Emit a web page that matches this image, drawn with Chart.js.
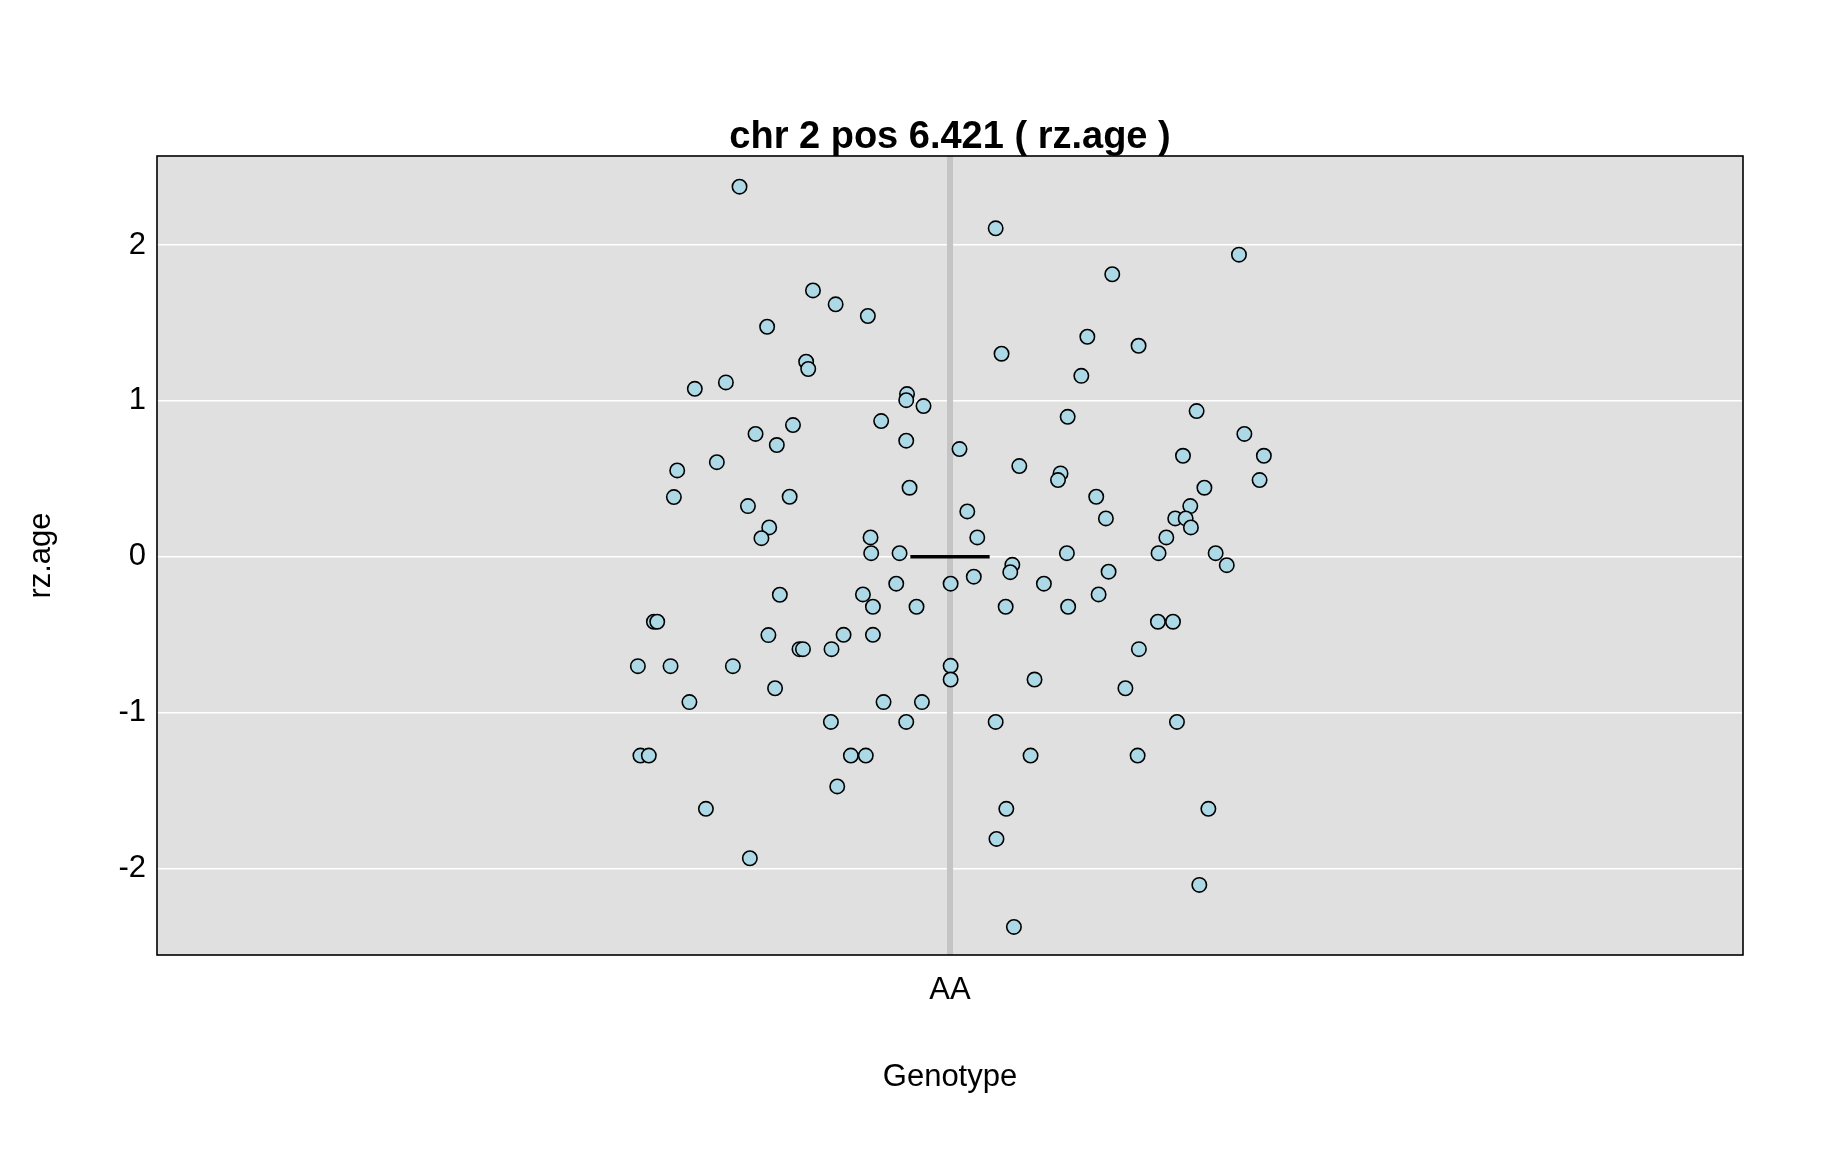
<!DOCTYPE html>
<html>
<head>
<meta charset="utf-8">
<script src="https://cdn.jsdelivr.net/npm/chart.js@4/dist/chart.umd.min.js"></script>
<style>
  html, body { margin: 0; padding: 0; background: #ffffff; }
  #wrap { width: 1824px; height: 1152px; position: relative; }
</style>
</head>
<body>
<div id="wrap"><canvas id="c" width="1824" height="1152"></canvas></div>
<script>
// ---- data ----
const genotypes = ['AA'];
const titleText = 'chr 2 pos 6.421 ( rz.age )';
const yLabel = 'rz.age';
const xLabel = 'Genotype';
const yTicks = [-2, -1, 0, 1, 2];
const meanValue = 0.0;
const meanHalfWidth = 0.025;

// horizontal jitter of each point (category units around AA)
const jitter = [
  -0.1327, 0.0288, 0.1822, 0.1023, -0.0864, -0.0721, -0.0518, -0.1153, 0.0866, 0.1189,
  0.0325, -0.0907, -0.0894, 0.0828, -0.1413, -0.1609, -0.0271, -0.0276, -0.0167, 0.1555,
  0.0742, -0.0434, -0.0990, -0.1226, 0.1856, -0.0276, -0.1092, 0.0060, 0.1469, 0.1979,
  -0.1470, 0.0437, -0.1720, 0.0697, 0.0681, 0.1952, -0.0255, 0.1604, -0.1011, -0.1741,
  0.0922, -0.1274, 0.1515, 0.0109, 0.0983, 0.1420, 0.1486, -0.1140, 0.1519, -0.1189,
  -0.0501, 0.0172, 0.1364, -0.0497, -0.0318, 0.0737, 0.1315, 0.1675, 0.0393, 0.1745,
  0.0380, 0.1000, 0.0150, -0.0339, 0.0004, 0.0592, -0.1073, -0.0549, 0.0937, -0.0486,
  -0.0211, 0.0351, 0.0745, -0.1867, -0.1846, 0.1311, 0.1406, -0.1145, -0.0671, -0.0486,
  -0.0949, -0.0927, -0.0747, 0.1191, -0.1968, -0.1762, -0.1369, 0.0004, 0.0004, 0.0533,
  -0.1103, 0.1106, -0.1643, -0.0419, -0.0177, -0.0751, -0.0276, 0.0288, 0.1431, -0.1952,
  -0.1899, -0.0625, -0.0531, 0.0508, 0.1183, -0.0711, -0.1539, 0.0355, 0.1629, 0.0293,
  -0.1262, 0.1572, 0.0403
];

// rz.age values
const rzAge = [
  2.375, 2.108, 1.939, 1.813, 1.709, 1.620, 1.545, 1.476, 1.412, 1.354,
  1.303, 1.252, 1.205, 1.161, 1.119, 1.078, 1.044, 1.005, 0.967, 0.935,
  0.898, 0.871, 0.845, 0.788, 0.788, 0.745, 0.717, 0.691, 0.648, 0.648,
  0.607, 0.582, 0.554, 0.535, 0.492, 0.492, 0.443, 0.443, 0.385, 0.383,
  0.385, 0.325, 0.325, 0.291, 0.246, 0.246, 0.246, 0.188, 0.188, 0.119,
  0.124, 0.124, 0.124, 0.023, 0.023, 0.023, 0.023, 0.023, -0.052, -0.054,
  -0.099, -0.096, -0.128, -0.173, -0.173, -0.173, -0.244, -0.242, -0.242, -0.321,
  -0.321, -0.321, -0.321, -0.417, -0.417, -0.417, -0.417, -0.503, -0.501, -0.501,
  -0.593, -0.593, -0.593, -0.593, -0.702, -0.702, -0.702, -0.700, -0.788, -0.788,
  -0.844, -0.844, -0.933, -0.933, -0.933, -1.060, -1.060, -1.060, -1.060, -1.276,
  -1.276, -1.276, -1.276, -1.276, -1.276, -1.474, -1.618, -1.618, -1.618, -1.811,
  -1.935, -2.106, -2.376
];

// ---- chart ----
const FONT = "'Liberation Sans', Arial, Helvetica, sans-serif";
const genoPos = 1; // position of AA on the x scale

const points = rzAge.map((v, i) => ({ x: genoPos + jitter[i], y: v }));
const meanLine = [
  { x: genoPos - meanHalfWidth, y: meanValue },
  { x: genoPos + meanHalfWidth, y: meanValue }
];

const panelPlugin = {
  id: 'panel',
  beforeDraw(chart) {
    const { ctx, chartArea: a } = chart;
    ctx.save();
    ctx.fillStyle = '#e0e0e0';
    ctx.fillRect(a.left, a.top, a.right - a.left, a.bottom - a.top);
    ctx.restore();
  },
  afterDraw(chart) {
    const { ctx, chartArea: a } = chart;
    ctx.save();
    ctx.strokeStyle = '#000000';
    ctx.lineWidth = 1.6;
    ctx.strokeRect(a.left, a.top, a.right - a.left, a.bottom - a.top);
    // main title, centred over the plotting panel
    ctx.fillStyle = '#000000';
    ctx.font = 'bold 38px ' + FONT;
    ctx.textAlign = 'center';
    ctx.textBaseline = 'middle';
    ctx.fillText(titleText, (a.left + a.right) / 2, 138);
    ctx.restore();
  }
};

new Chart(document.getElementById('c'), {
  type: 'scatter',
  data: {
    datasets: [
      {
        label: 'AA-line',
        type: 'line',
        data: [{ x: genoPos, y: -2.556 }, { x: genoPos, y: 2.572 }],
        borderColor: '#c4c4c4',
        borderWidth: 6,
        pointRadius: 0,
        order: 3
      },
      {
        label: 'rz.age',
        data: points,
        backgroundColor: '#add8e6',
        borderColor: '#000000',
        borderWidth: 1.6,
        pointRadius: 7.2,
        pointHoverRadius: 7.2,
        order: 1
      },
      {
        label: 'mean',
        type: 'line',
        data: meanLine,
        borderColor: '#000000',
        borderWidth: 3.5,
        pointRadius: 0,
        order: 2
      }
    ]
  },
  options: {
    responsive: false,
    animation: false,
    events: [],
    layout: { padding: { left: 0, right: 81, top: 156, bottom: 0 } },
    plugins: {
      legend: { display: false },
      tooltip: { enabled: false },
      title: { display: false }
    },
    scales: {
      x: {
        type: 'linear',
        min: 0.5,
        max: 1.5,
        afterFit(scale) { scale.height = 197; },
        afterBuildTicks(scale) { scale.ticks = genotypes.map((g, i) => ({ value: genoPos + i })); },
        grid: { display: false, drawTicks: false },
        border: { display: false },
        ticks: {
          color: '#000000',
          font: { family: FONT, size: 31 },
          padding: 17,
          maxRotation: 0,
          autoSkip: false,
          callback: (v) => genotypes[Math.round(v - genoPos)] ?? ''
        },
        title: {
          display: true,
          text: xLabel,
          color: '#000000',
          font: { family: FONT, size: 31 },
          padding: { top: 0, bottom: 56 }
        }
      },
      y: {
        type: 'linear',
        min: -2.556,
        max: 2.572,
        afterFit(scale) { scale.width = 157; },
        afterBuildTicks(scale) { scale.ticks = yTicks.map(v => ({ value: v })); },
        grid: { display: true, color: '#ffffff', lineWidth: 1.6, drawTicks: false },
        border: { display: false },
        ticks: {
          color: '#000000',
          font: { family: FONT, size: 31 },
          padding: 11,
          callback: (v) => String(v)
        },
        title: {
          display: true,
          text: yLabel,
          color: '#000000',
          font: { family: FONT, size: 31 },
          padding: { top: 23, bottom: 0 }
        }
      }
    }
  },
  plugins: [panelPlugin]
});
</script>
</body>
</html>
